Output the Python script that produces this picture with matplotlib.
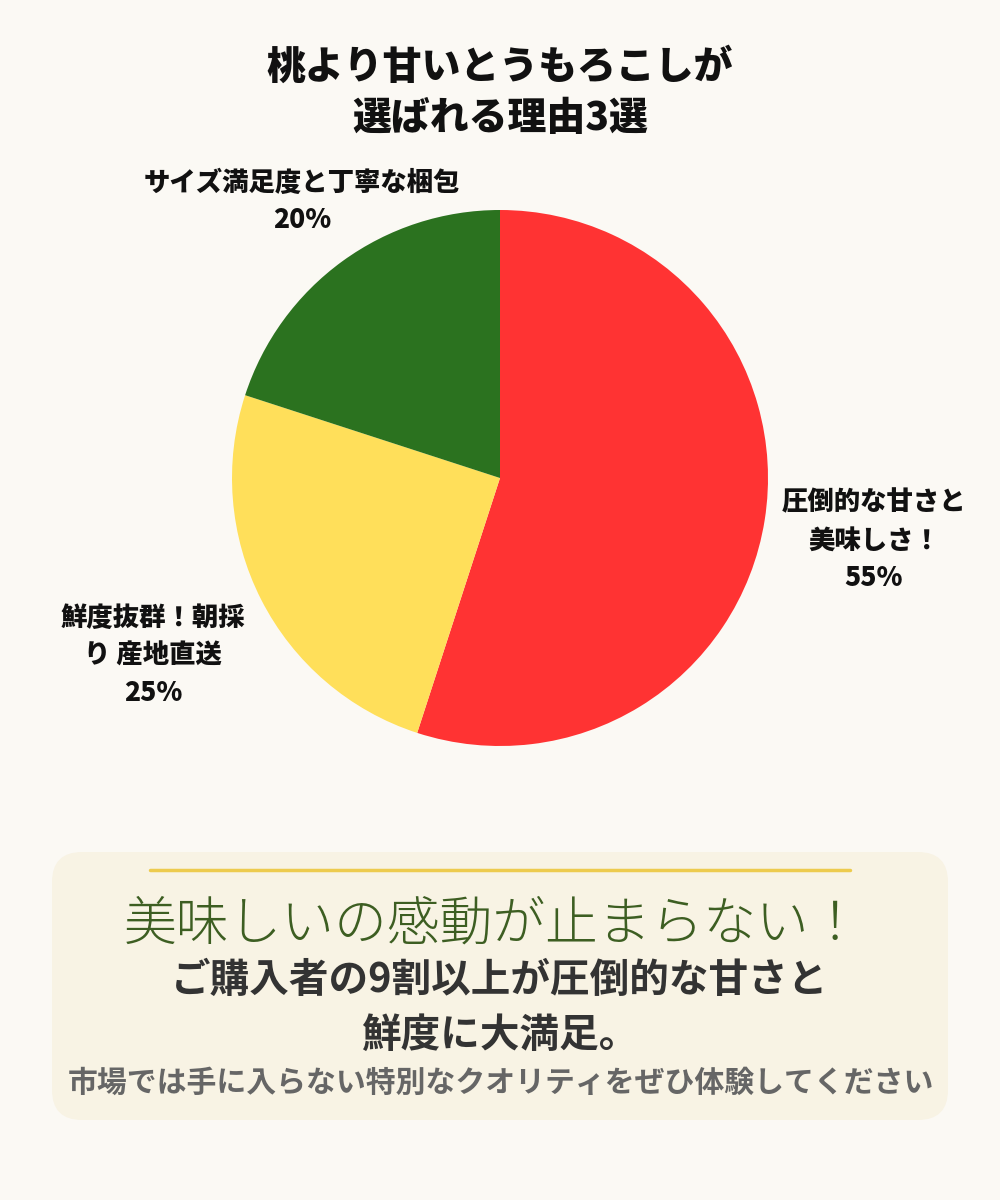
import matplotlib.pyplot as plt
from matplotlib.patches import FancyBboxPatch

plt.rcParams['font.family'] = ['Noto Sans CJK JP', 'DejaVu Sans']

# data
labels = ['圧倒的な甘さと\n美味しさ！\n55%', '鮮度抜群！朝採\nり 産地直送\n25%', 'サイズ満足度と丁寧な梱包\n20%']
values = [55, 25, 20]
colors = ['#FF3333', '#FFDF5A', '#2B721F']

title = '桃より甘いとうもろこしが\n選ばれる理由3選'
catch = '美味しいの感動が止まらない！'
msg = 'ご購入者の9割以上が圧倒的な甘さと\n鮮度に大満足。'
note = '市場では手に入らない特別なクオリティをぜひ体験してください'

bg = '#FBF9F4'
fig = plt.figure(figsize=(10, 12), dpi=100, facecolor=bg)
ax = fig.add_axes([0, 0, 1, 1])
ax.set_facecolor(bg)

H = 1200
ax.text(500, H - 93, title, ha='center', va='center', fontsize=28,
        fontweight='heavy', color='#111111', linespacing=1.38)

ax.pie(values, colors=colors, startangle=90, counterclock=False,
       center=(500, H - 478), radius=268, frame=True)
ax.set_xlim(0, 1000)
ax.set_ylim(0, 1200)
ax.set_aspect('equal')
ax.axis('off')

label_pos = [(874, H - 540), (153, H - 655), (302, H - 201)]
for lab, (x, y) in zip(labels, label_pos):
    ax.text(x, y, lab, ha='center', va='center', fontsize=19,
            fontweight='heavy', color='#111111', linespacing=1.4)

# bottom box
box = FancyBboxPatch((52, H - 1120), 896, 268,
                     boxstyle='round,pad=0,rounding_size=30',
                     facecolor='#F8F3E4', edgecolor='none')
ax.add_patch(box)
ax.plot([150, 850], [H - 870, H - 870], color='#EDCB4E', lw=2.5,
        solid_capstyle='round')

ax.text(493, H - 925, catch, ha='center', va='center', fontsize=38,
        fontweight='light', color='#3D5E22')
ax.text(500, H - 1008, msg, ha='center', va='center', fontsize=28.5,
        fontweight='bold', color='#333333', linespacing=1.42)
ax.text(501, H - 1083, note, ha='center', va='center', fontsize=21.5,
        fontweight='bold', color='#666666')

fig.savefig('out.png', dpi=100, facecolor=bg)
